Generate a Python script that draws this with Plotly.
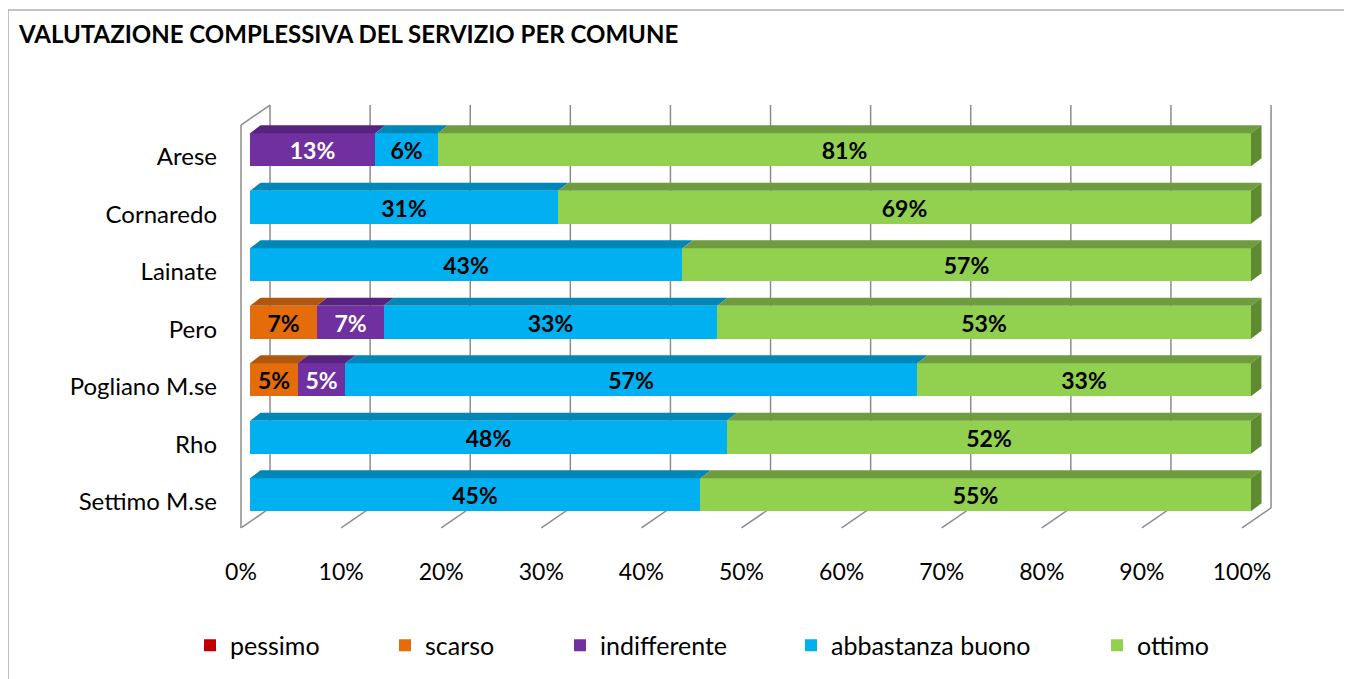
import math
import plotly.graph_objects as go

# ---------------- data ----------------
comuni = ["Arese", "Cornaredo", "Lainate", "Pero", "Pogliano M.se", "Rho", "Settimo M.se"]
series_names = ["pessimo", "scarso", "indifferente", "abbastanza buono", "ottimo"]
pessimo = [0, 0, 0, 0, 0, 0, 0]
scarso = [0, 0, 0, 6.67, 4.76, 0, 0]
indifferente = [12.5, 0, 0, 6.67, 4.76, 0, 0]
abbastanza_buono = [6.25, 30.77, 43.2, 33.33, 57.14, 47.62, 45.0]
ottimo = [81.25, 69.23, 56.8, 53.33, 33.33, 52.38, 55.0]
tick_values = [0, 10, 20, 30, 40, 50, 60, 70, 80, 90, 100]
tick_labels = ["0%", "10%", "20%", "30%", "40%", "50%", "60%", "70%", "80%", "90%", "100%"]

values = [pessimo, scarso, indifferente, abbastanza_buono, ottimo]

# ---------------- style ----------------
FONT = "Lato"
front_cols = ["#C00000", "#E46C0A", "#7030A0", "#00B0F0", "#92D050"]
top_cols = ["#8E0000", "#B0560E", "#56247E", "#0087B8", "#6E9C3E"]
side_cols = ["#7A0000", "#9A4A0A", "#4A1F6C", "#00759F", "#5F8A31"]
text_cols = ["white", "black", "white", "black", "black"]

# layout in pixels
L, T, PW, PH = 232, 90, 1041, 434
XR = [-1, -1 + PW / 10.01]
YR = [-0.9 + PH / 57.5, -0.9]

# geometry (data units)
BAR_W = 0.574
DX, DY = 1.05, 0.139          # bar depth offset
BACK_DX, FRONT_DX = 2.0, -0.9  # wall offsets
BACK_TOP, BACK_FLOOR, FRONT_FLOOR, WALL_TOP_FRONT = -0.778, 6.23, 6.578, -0.43
LABEL_DY = 0.12               # category labels sit slightly below bar centres

ypos = list(range(len(comuni)))
legend_ids = ["legend", "legend2", "legend3", "legend4", "legend5"]
legend_px = [190, 385, 560, 791, 1097]  # screen x of each legend entry

fig = go.Figure()

def fmt(v):
    return f"{math.floor(v + 0.5)}%" if v > 0 else ""

for i, name in enumerate(series_names):
    fig.add_trace(go.Bar(
        y=ypos, x=values[i], orientation="h", name=name,
        marker=dict(color=front_cols[i], line=dict(width=0)),
        width=BAR_W,
        text=[fmt(v) for v in values[i]],
        textposition="inside", insidetextanchor="middle",
        constraintext="none",
        textfont=dict(family=FONT, size=23, color=text_cols[i], weight="bold"),
        hoverinfo="skip", legend=legend_ids[i],
    ))

# 3D faces: tops for every segment, side for last segment
for i in range(len(series_names)):
    tx, ty = [], []
    for r in range(len(comuni)):
        v = values[i][r]
        if v <= 0:
            continue
        x0 = sum(values[k][r] for k in range(i))
        x1 = x0 + v
        yt = r - BAR_W / 2
        tx += [x0, x1, x1 + DX, x0 + DX, x0, None]
        ty += [yt, yt, yt - DY, yt - DY, yt, None]
    if tx:
        fig.add_trace(go.Scatter(x=tx, y=ty, mode="lines", fill="toself",
                                 fillcolor=top_cols[i], line=dict(width=0),
                                 showlegend=False, hoverinfo="skip"))
sx, sy = [], []
for r in range(len(comuni)):
    x1 = sum(values[k][r] for k in range(len(series_names)))
    yt, yb = r - BAR_W / 2, r + BAR_W / 2
    sx += [x1, x1 + DX, x1 + DX, x1, x1, None]
    sy += [yt, yt - DY, yb - DY, yb, yt, None]
fig.add_trace(go.Scatter(x=sx, y=sy, mode="lines", fill="toself",
                         fillcolor=side_cols[4], line=dict(width=0),
                         showlegend=False, hoverinfo="skip"))

# walls / gridlines (below traces)
GRID = dict(color="#8C8C8C", width=1.5)
shapes = []
for t in tick_values:
    shapes.append(dict(type="line", layer="below", xref="x", yref="y",
                       x0=t + BACK_DX, x1=t + BACK_DX, y0=BACK_TOP, y1=BACK_FLOOR, line=GRID))
    shapes.append(dict(type="line", layer="below", xref="x", yref="y",
                       x0=t + BACK_DX, x1=t + FRONT_DX, y0=BACK_FLOOR, y1=FRONT_FLOOR, line=GRID))
shapes.append(dict(type="line", layer="below", xref="x", yref="y",
                   x0=FRONT_DX, x1=FRONT_DX, y0=WALL_TOP_FRONT, y1=FRONT_FLOOR, line=GRID))
shapes.append(dict(type="line", layer="below", xref="x", yref="y",
                   x0=FRONT_DX, x1=BACK_DX, y0=WALL_TOP_FRONT, y1=BACK_TOP, line=GRID))

def px_x(px):  # screen px -> paper x (page has 8px body margin)
    return (px - 8 - L) / PW

def px_y(py):
    return (T + PH - (py - 8)) / PH

# chart border
shapes.append(dict(type="rect", xref="paper", yref="paper", x0=px_x(8), x1=2, y0=-1, y1=px_y(10),
                   line=dict(color="#868686", width=1), fillcolor="rgba(0,0,0,0)"))

legends = {}
for i, lid in enumerate(legend_ids):
    legends[lid] = dict(orientation="h", x=px_x(legend_px[i]), xanchor="left",
                        y=px_y(645.5), yanchor="middle",
                        font=dict(family=FONT, size=25, color="black"),
                        itemwidth=30, bgcolor="rgba(0,0,0,0)")

fig.update_layout(
    width=1352, height=679,
    margin=dict(l=L, r=1352 - L - PW, t=T, b=679 - T - PH, pad=0),
    paper_bgcolor="white", plot_bgcolor="white",
    barmode="stack", bargap=0,
    shapes=shapes,
    font=dict(family=FONT, color="black"),
    xaxis=dict(range=XR, tickvals=[t + FRONT_DX for t in tick_values], ticktext=tick_labels,
               showgrid=False, zeroline=False, showline=False, ticks="",
               ticklabelstandoff=24, tickfont=dict(family=FONT, size=23, color="black")),
    yaxis=dict(range=YR, tickvals=[p + LABEL_DY for p in ypos], ticktext=comuni,
               showgrid=False, zeroline=False, showline=False, ticks="",
               ticklabelstandoff=22, tickfont=dict(family=FONT, size=24, color="black")),
    annotations=[dict(text="<b>VALUTAZIONE COMPLESSIVA DEL SERVIZIO PER COMUNE</b>",
                      xref="paper", yref="paper", x=px_x(16), y=px_y(34),
                      xanchor="left", yanchor="middle", showarrow=False,
                      font=dict(family=FONT, size=24, color="black"))],
    **legends,
)

fig.write_html("out.html")
